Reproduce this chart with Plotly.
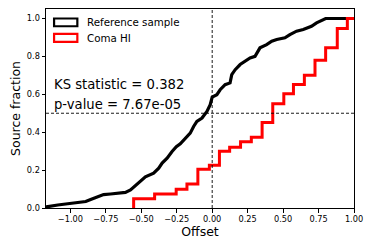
import plotly.graph_objects as go

# Reference sample cumulative fraction
ref_offset = [-1.175, -1.138, -1.089, -1.033, -0.998, -0.928, -0.892, -0.857, -0.808, -0.766,
              -0.717, -0.668, -0.612, -0.576, -0.529, -0.471, -0.413, -0.377, -0.353, -0.318,
              -0.283, -0.253, -0.225, -0.19, -0.155, -0.131, -0.108, -0.072, -0.037, -0.014,
              0.0, 0.033, 0.056, 0.091, 0.126, 0.138, 0.162, 0.197, 0.232, 0.267,
              0.302, 0.325, 0.337, 0.384, 0.42, 0.455, 0.513, 0.548, 0.595, 0.642,
              0.70, 0.736, 0.771, 0.80, 1.0]
ref_frac = [0.005, 0.008, 0.016, 0.021, 0.024, 0.029, 0.034, 0.045, 0.058, 0.071,
            0.074, 0.077, 0.082, 0.095, 0.127, 0.164, 0.184, 0.21, 0.237, 0.263,
            0.298, 0.323, 0.339, 0.369, 0.395, 0.43, 0.457, 0.475, 0.51, 0.545,
            0.585, 0.598, 0.624, 0.651, 0.66, 0.704, 0.73, 0.757, 0.774, 0.792,
            0.80, 0.827, 0.845, 0.862, 0.88, 0.889, 0.898, 0.915, 0.933, 0.942,
            0.959, 0.977, 0.989, 1.0, 1.0]

# Coma HI step edges and cumulative levels
coma_edges = [-0.554, -0.406, -0.254, -0.178, -0.101, -0.02, 0.051, 0.123, 0.20, 0.276,
              0.352, 0.427, 0.505, 0.573, 0.65, 0.725, 0.80, 0.882, 0.953]
coma_frac = [0.049, 0.074, 0.099, 0.127, 0.204, 0.225, 0.30, 0.32, 0.349, 0.373,
             0.451, 0.55, 0.603, 0.651, 0.70, 0.779, 0.845, 0.947, 1.0]

x_ticks = [-1.0, -0.75, -0.5, -0.25, 0.0, 0.25, 0.5, 0.75, 1.0]
y_ticks = [0.0, 0.2, 0.4, 0.6, 0.8, 1.0]
ks_text = "KS statistic = 0.382"
p_text = "p-value = 7.67e-05"

FONT = "DejaVu Sans"

fig = go.Figure()

fig.add_trace(go.Scatter(
    x=ref_offset, y=ref_frac, mode="lines", line=dict(color="black", width=3.2),
    line_shape="linear", showlegend=False, hoverinfo="skip"))

cx = [coma_edges[0]] + coma_edges + [1.0]
cy = [0.0] + coma_frac + [coma_frac[-1]]
fig.add_trace(go.Scatter(
    x=cx, y=cy, mode="lines", line=dict(color="red", width=3),
    line_shape="hv", showlegend=False, hoverinfo="skip"))

# dashed reference lines
fig.add_shape(type="line", xref="x", yref="paper", x0=0, x1=0, y0=0, y1=1,
              line=dict(color="black", width=0.9, dash="3px,2px"))
fig.add_shape(type="line", xref="paper", yref="y", x0=0, x1=1, y0=0.5, y1=0.5,
              line=dict(color="black", width=0.9, dash="3px,2px"))

# legend patches
fig.add_shape(type="rect", xref="x", yref="y", x0=-1.115, x1=-0.951, y0=0.959, y1=1.0,
              line=dict(color="black", width=2.2), fillcolor="white")
fig.add_shape(type="rect", xref="x", yref="y", x0=-1.115, x1=-0.951, y0=0.877, y1=0.919,
              line=dict(color="red", width=2.2), fillcolor="white")
fig.add_annotation(x=-0.90, y=0.98, xref="x", yref="y", text="Reference sample",
                   showarrow=False, xanchor="left", yanchor="middle",
                   font=dict(family=FONT, size=10.3, color="black"))
fig.add_annotation(x=-0.90, y=0.898, xref="x", yref="y", text="Coma HI",
                   showarrow=False, xanchor="left", yanchor="middle",
                   font=dict(family=FONT, size=10.3, color="black"))

fig.add_annotation(x=-1.127, y=0.651, xref="x", yref="y", text=ks_text,
                   showarrow=False, xanchor="left", yanchor="middle",
                   font=dict(family=FONT, size=13.2, color="black"))
fig.add_annotation(x=-1.127, y=0.545, xref="x", yref="y", text=p_text,
                   showarrow=False, xanchor="left", yanchor="middle",
                   font=dict(family=FONT, size=13.2, color="black"))

# page body adds an 8px offset; size the figure so it fits the window
fig.update_layout(
    width=366, height=241,
    margin=dict(l=38, r=20, t=1, b=41),
    paper_bgcolor="white", plot_bgcolor="white",
    font=dict(family=FONT, color="black"),
    showlegend=False,
)
fig.update_xaxes(
    range=[-1.172, 1.0], tickvals=x_ticks, tickformat=".2f", automargin=False,
    showgrid=False, zeroline=False, showline=True, linecolor="black", linewidth=1,
    mirror=True, ticks="outside", ticklen=3.5, tickwidth=0.8, tickcolor="black",
    tickfont=dict(family=FONT, size=8.2),
    title=dict(text="Offset", font=dict(family=FONT, size=12.5), standoff=2),
)
fig.update_yaxes(
    range=[0, 1.05], tickvals=y_ticks, tickformat=".1f", automargin=False,
    showgrid=False, zeroline=False, showline=True, linecolor="black", linewidth=1,
    mirror=True, ticks="outside", ticklen=3.5, tickwidth=0.8, tickcolor="black",
    tickfont=dict(family=FONT, size=8.2),
    title=dict(text="Source fraction", font=dict(family=FONT, size=12.5), standoff=4),
)

fig.write_html("out.html")
